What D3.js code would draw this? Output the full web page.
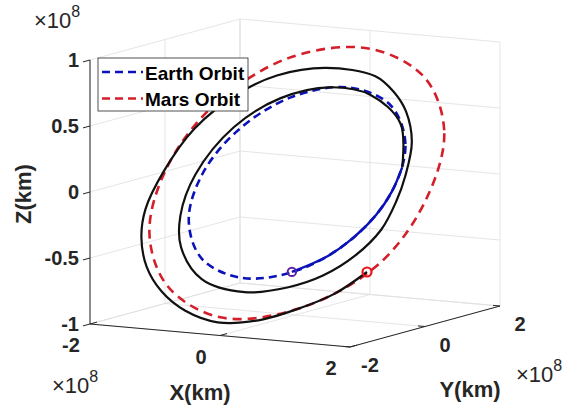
<!DOCTYPE html>
<html><head><meta charset="utf-8">
<script src="https://cdn.jsdelivr.net/npm/d3@7"></script>
<style>body{margin:0;background:#fff}svg{display:block}text{font-family:"Liberation Sans",Arial,sans-serif;fill:#262626}</style>
</head><body><svg id="c" width="565" height="410"></svg>
<script>
// ---- data (units of 1e8 km) ----
const xTicks = [-2, 0, 2];
const yTicks = [-2, 0, 2];
const zTicks = [-1, -0.5, 0, 0.5, 1];
const xTickLabels = ["-2", "0", "2"];
const yTickLabels = ["-2", "0", "2"];
const zTickLabels = ["-1", "-0.5", "0", "0.5", "1"];
const seriesNames = ["Earth Orbit", "Mars Orbit"];

const earthOrbit = [
  [1.490, 0, 0], [1.301, 0.689, 0.299], [0.767, 1.218, 0.528], [0, 1.417, 0.614],
  [-0.758, 1.204, 0.522], [-1.267, 0.671, 0.291], [-1.431, 0, 0], [-1.252, -0.663, -0.288],
  [-0.747, -1.187, -0.515], [0, -1.407, -0.610], [0.768, -1.220, -0.529], [1.307, -0.692, -0.300]
];
const marsOrbit = [
  [2.050, 0, 0], [1.758, 0.931, 0.404], [1.040, 1.653, 0.716], [0, 1.991, 0.863],
  [-1.108, 1.760, 0.763], [-1.836, 0.973, 0.422], [-2.000, 0, 0], [-1.715, -0.908, -0.394],
  [-1.020, -1.621, -0.703], [0, -1.991, -0.863], [1.105, -1.756, -0.761], [1.905, -1.009, -0.438]
];
const earthArc = [
  [0.678, -1.259, -0.546], [1.078, -0.989, -0.429], [1.307, -0.692, -0.300],
  [1.449, -0.356, -0.154], [1.490, 0, 0], [1.444, 0.355, 0.154]
];
const transfer = [
  [1.444, 0.355, 0.154], [1.061, 0.973, 0.422], [0.391, 1.338, 0.580], [-0.268, 1.396, 0.605],
  [-0.901, 1.180, 0.512], [-1.351, 0.716, 0.310], [-1.530, 0, 0], [-1.414, -0.605, -0.262],
  [-1.146, -1.051, -0.456], [-0.585, -1.474, -0.639], [0.153, -1.604, -0.696], [0.752, -1.480, -0.642],
  [1.164, -1.272, -0.552], [1.475, -0.947, -0.411], [1.645, -0.549, -0.238], [1.634, -0.131, -0.057],
  [1.556, 0.252, 0.109], [1.377, 0.729, 0.316], [1.048, 1.146, 0.497], [0.714, 1.405, 0.609],
  [0.309, 1.608, 0.697], [-0.487, 1.666, 0.722], [-1.142, 1.496, 0.649], [-1.555, 1.197, 0.519],
  [-1.917, 0.640, 0.278], [-2.020, 0, 0], [-1.980, -0.555, -0.241], [-1.810, -0.959, -0.416],
  [-1.492, -1.369, -0.594], [-1.070, -1.700, -0.737], [-0.567, -1.941, -0.842], [0, -2.064, -0.895],
  [0.580, -1.985, -0.861], [1.105, -1.756, -0.761], [1.485, -1.514, -0.656], [1.781, -1.167, -0.506]
];
const departure = [0.678, -1.259, -0.546];
const arrival = [1.781, -1.167, -0.506];

// ---- projection via d3 scales ----
const xs = d3.scaleLinear().domain([-2, 2]).range([-1, 1]);
const ys = d3.scaleLinear().domain([-2, 2]).range([-1, 1]);
const zs = d3.scaleLinear().domain([-1, 1]).range([-1, 1]);
const O = [295, 183], EX = [130, 11.5], EY = [75, -20.5], EZ = [0, -132];
function P(d) {
  const a = xs(d[0]), b = ys(d[1]), c = zs(d[2]);
  return [O[0] + a * EX[0] + b * EY[0] + c * EZ[0], O[1] + a * EX[1] + b * EY[1] + c * EZ[1]];
}

const svg = d3.select("#c");
const xMin = -2, xMax = 2, yMin = -2, yMax = 2, zMin = -1, zMax = 1;

// grid
const grid = [];
xTicks.forEach(x => { grid.push([[x, yMin, zMin], [x, yMax, zMin]]); grid.push([[x, yMax, zMin], [x, yMax, zMax]]); });
yTicks.forEach(y => { grid.push([[xMin, y, zMin], [xMax, y, zMin]]); grid.push([[xMin, y, zMin], [xMin, y, zMax]]); });
zTicks.forEach(z => { grid.push([[xMin, yMin, z], [xMin, yMax, z]]); grid.push([[xMin, yMax, z], [xMax, yMax, z]]); });
svg.append("g").selectAll("line").data(grid).join("line")
  .attr("x1", d => P(d[0])[0]).attr("y1", d => P(d[0])[1])
  .attr("x2", d => P(d[1])[0]).attr("y2", d => P(d[1])[1])
  .attr("stroke", "#dedede").attr("stroke-width", 0.8);

// axes lines
const axes = [
  [[xMin, yMin, zMin], [xMin, yMin, zMax]],
  [[xMin, yMin, zMin], [xMax, yMin, zMin]],
  [[xMax, yMin, zMin], [xMax, yMax, zMin]]
];
svg.append("g").selectAll("line").data(axes).join("line")
  .attr("x1", d => P(d[0])[0]).attr("y1", d => P(d[0])[1])
  .attr("x2", d => P(d[1])[0]).attr("y2", d => P(d[1])[1])
  .attr("stroke", "#262626").attr("stroke-width", 1);

// ticks
const tk = svg.append("g").attr("stroke", "#262626").attr("stroke-width", 1);
zTicks.forEach(z => { const p = P([xMin, yMin, z]); tk.append("line").attr("x1", p[0]).attr("y1", p[1]).attr("x2", p[0] - 7).attr("y2", p[1] + 1.9); });
xTicks.forEach(x => { const p = P([x, yMin, zMin]); tk.append("line").attr("x1", p[0]).attr("y1", p[1]).attr("x2", p[0] + 7).attr("y2", p[1] - 1.9); });
yTicks.forEach(y => { const p = P([xMax, y, zMin]); tk.append("line").attr("x1", p[0]).attr("y1", p[1]).attr("x2", p[0] - 7).attr("y2", p[1] - 0.6); });

// tick labels
const tl = svg.append("g").style("font-size", "20px").style("font-weight", "bold");
zTicks.forEach((z, i) => { const p = P([xMin, yMin, z]); tl.append("text").attr("x", p[0] - 11).attr("y", p[1]).attr("text-anchor", "end").attr("dominant-baseline", "central").text(zTickLabels[i]); });
xTicks.forEach((x, i) => { const p = P([x, yMin, zMin]); tl.append("text").attr("x", p[0] - 19).attr("y", p[1] + 21).attr("text-anchor", "middle").attr("dominant-baseline", "central").text(xTickLabels[i]); });
yTicks.forEach((y, i) => { const p = P([xMax, y, zMin]); tl.append("text").attr("x", p[0] + 20).attr("y", p[1] + 18).attr("text-anchor", "middle").attr("dominant-baseline", "central").text(yTickLabels[i]); });

// exponent labels
function expo(x, y) {
  const t = svg.append("text").attr("x", x).attr("y", y).style("font-size", "22px").style("font-weight", "normal");
  t.append("tspan").text("\u00d710");
  t.append("tspan").attr("dy", -11).style("font-size", "16px").text("8");
}
expo(34, 28);
expo(52, 393);
expo(516, 382);

// axis labels
const al = svg.append("g").style("font-size", "22px").style("font-weight", "bold");
al.append("text").attr("x", 200).attr("y", 392).attr("text-anchor", "middle").attr("dominant-baseline", "central").text("X(km)");
al.append("text").attr("x", 470).attr("y", 389).attr("text-anchor", "middle").attr("dominant-baseline", "central").text("Y(km)");
al.append("text").attr("transform", "translate(23,194) rotate(-90)").attr("text-anchor", "middle").attr("dominant-baseline", "central").text("Z(km)");

// curves
const closed = d3.line().x(d => P(d)[0]).y(d => P(d)[1]).curve(d3.curveCatmullRomClosed.alpha(0.5));
const open = d3.line().x(d => P(d)[0]).y(d => P(d)[1]).curve(d3.curveCatmullRom.alpha(0.5));
const BLUE = "#0a12b8", RED = "#d41f2a";
svg.append("path").attr("d", closed(earthOrbit)).attr("fill", "none").attr("stroke", BLUE).attr("stroke-width", 2.6).attr("stroke-dasharray", "8,5");
svg.append("path").attr("d", closed(marsOrbit)).attr("fill", "none").attr("stroke", RED).attr("stroke-width", 2.6).attr("stroke-dasharray", "9,6");
svg.append("path").attr("d", open(earthArc)).attr("fill", "none").attr("stroke", BLUE).attr("stroke-width", 2.4);
svg.append("path").attr("d", open(transfer)).attr("fill", "none").attr("stroke", "#111").attr("stroke-width", 2.2);
const pd = P(departure), pa = P(arrival);
svg.append("circle").attr("cx", pd[0]).attr("cy", pd[1]).attr("r", 4.2).attr("fill", "none").attr("stroke", "#5b1fa6").attr("stroke-width", 2);
svg.append("circle").attr("cx", pa[0]).attr("cy", pa[1]).attr("r", 4.5).attr("fill", "none").attr("stroke", "#e8141c").attr("stroke-width", 2.2);

// legend
const lg = svg.append("g");
lg.append("rect").attr("x", 98).attr("y", 58).attr("width", 150).attr("height", 53).attr("fill", "#fff").attr("stroke", "#262626").attr("stroke-width", 0.8);
const lcol = [BLUE, RED];
seriesNames.forEach((n, i) => {
  const y = 72 + i * 26.5;
  lg.append("line").attr("x1", 102).attr("x2", 143).attr("y1", y).attr("y2", y).attr("stroke", lcol[i]).attr("stroke-width", 2.6).attr("stroke-dasharray", "8,5");
  lg.append("text").attr("x", 145).attr("y", y + 1).style("font-size", "19px").style("font-weight", "bold").style("fill", "#000").attr("dominant-baseline", "central").text(n);
});
</script></body></html>
